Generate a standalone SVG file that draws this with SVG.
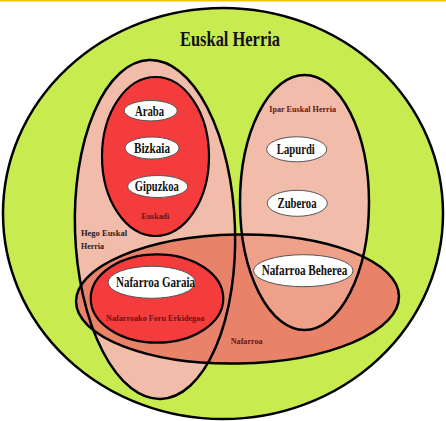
<svg xmlns="http://www.w3.org/2000/svg" xmlns:xlink="http://www.w3.org/1999/xlink" width="446" height="421" viewBox="0 0 446 421">
<style>
.ol{fill:none;stroke:#000;stroke-width:2.5}
.wt{fill:#fff;stroke:#555;stroke-width:1}
.big{font-family:"Liberation Serif","Times New Roman",serif;font-weight:bold;font-size:14px;fill:#111;text-anchor:middle}
.sm{font-family:"Liberation Serif","Times New Roman",serif;font-weight:bold;font-size:9px;fill:#6a1414;text-anchor:middle}
.smd{font-family:"Liberation Serif","Times New Roman",serif;font-weight:bold;font-size:9px;fill:#2a1a1a}
</style>
<defs>
<ellipse id="e-hego" cx="155" cy="229.5" rx="80" ry="169.5" transform="rotate(-2 155 229.5)"/>
<ellipse id="e-ipar" cx="304.5" cy="202.5" rx="64.5" ry="127.5"/>
<ellipse id="e-naf" cx="237.5" cy="299" rx="161.5" ry="64.5" transform="rotate(-1 237.5 299)"/>
<clipPath id="clip-naf"><use xlink:href="#e-naf"/></clipPath>
</defs>
<rect x="0" y="0" width="446" height="421" fill="#fff"/>
<rect x="0" y="0" width="446" height="1.5" fill="#f5c400"/>

<g id="euskal-herria">
<ellipse cx="223" cy="213.5" rx="220" ry="205.5" fill="#c8ec50" stroke="#000" stroke-width="2.5"/>
<text x="230" y="46" font-family="Liberation Serif,Times New Roman,serif" font-weight="bold" font-size="21" fill="#111" text-anchor="middle" textLength="100" lengthAdjust="spacingAndGlyphs">Euskal Herria</text>
</g>

<g id="hego-euskal-herria">
<use xlink:href="#e-hego" fill="#f2bcaa"/>
</g>
<g id="ipar-euskal-herria">
<use xlink:href="#e-ipar" fill="#f2bcaa"/>
</g>
<g id="nafarroa">
<use xlink:href="#e-naf" fill="#e8836a"/>
<use xlink:href="#e-ipar" fill="#eea088" clip-path="url(#clip-naf)"/>
<text class="sm" x="246.7" y="344" textLength="32" lengthAdjust="spacingAndGlyphs">Nafarroa</text>
</g>

<g id="outlines">
<use xlink:href="#e-hego" class="ol"/>
<use xlink:href="#e-ipar" class="ol"/>
<use xlink:href="#e-naf" class="ol"/>
</g>

<g id="hego-label">
<text class="smd" x="81" y="236" textLength="46" lengthAdjust="spacingAndGlyphs">Hego Euskal</text>
<text class="smd" x="81" y="248.5" textLength="23" lengthAdjust="spacingAndGlyphs">Herria</text>
</g>
<g id="ipar-label">
<text class="sm" x="302.7" y="111.7" textLength="66.7" lengthAdjust="spacingAndGlyphs">Ipar Euskal Herria</text>
</g>

<g id="euskadi">
<ellipse cx="155.5" cy="156.5" rx="53.5" ry="79.5" fill="#f43c3c" stroke="#000" stroke-width="2.2"/>
<text class="sm" x="155.3" y="219.3" textLength="28" lengthAdjust="spacingAndGlyphs">Euskadi</text>
</g>
<g id="nafarroako-foru-erkidegoa">
<ellipse cx="157" cy="298.5" rx="66.3" ry="44.2" fill="#f43c3c" stroke="#000" stroke-width="2.2"/>
<text class="sm" x="155.2" y="321" textLength="98.3" lengthAdjust="spacingAndGlyphs">Nafarroako Foru Erkidegoa</text>
</g>

<g id="araba">
<ellipse class="wt" cx="150.7" cy="110.7" rx="26.5" ry="10.2"/>
<text class="big" x="149.5" y="115.5" textLength="29" lengthAdjust="spacingAndGlyphs">Araba</text>
</g>
<g id="bizkaia">
<ellipse class="wt" cx="152" cy="148" rx="27" ry="11"/>
<text class="big" x="152" y="153" textLength="36" lengthAdjust="spacingAndGlyphs">Bizkaia</text>
</g>
<g id="gipuzkoa">
<ellipse class="wt" cx="157.7" cy="186.5" rx="30" ry="11"/>
<text class="big" x="156.8" y="191" textLength="44" lengthAdjust="spacingAndGlyphs">Gipuzkoa</text>
</g>
<g id="lapurdi">
<ellipse class="wt" cx="296.7" cy="149.3" rx="30" ry="12.5"/>
<text class="big" x="295.8" y="153.8" textLength="38" lengthAdjust="spacingAndGlyphs">Lapurdi</text>
</g>
<g id="zuberoa">
<ellipse class="wt" cx="297.3" cy="203.3" rx="30" ry="13"/>
<text class="big" x="297" y="208" textLength="39" lengthAdjust="spacingAndGlyphs">Zuberoa</text>
</g>
<g id="nafarroa-garaia">
<ellipse class="wt" cx="151.7" cy="282.3" rx="43.7" ry="16"/>
<text class="big" x="155.5" y="286.5" textLength="79" lengthAdjust="spacingAndGlyphs">Nafarroa Garaia</text>
</g>
<g id="nafarroa-beherea">
<ellipse class="wt" cx="303.3" cy="270.7" rx="49.7" ry="16"/>
<text class="big" x="304.5" y="275" textLength="85.7" lengthAdjust="spacingAndGlyphs">Nafarroa Beherea</text>
</g>
</svg>
